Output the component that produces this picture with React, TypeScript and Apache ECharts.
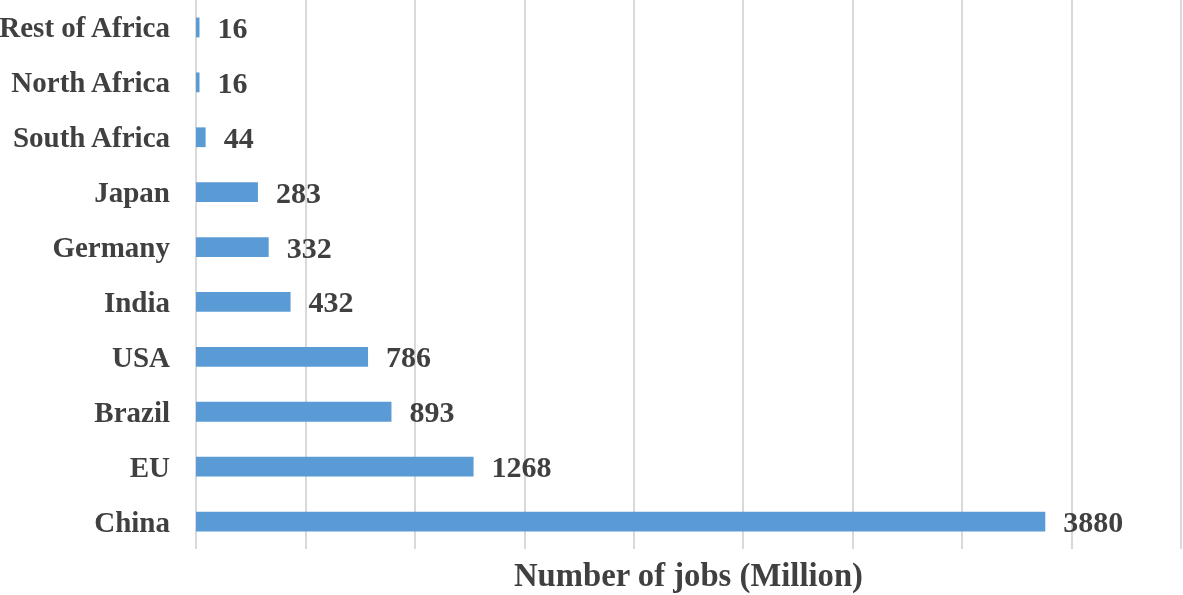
import React, { useEffect, useRef } from "react";
import * as echarts from "echarts";

const categories = ["China", "EU", "Brazil", "USA", "India", "Germany", "Japan", "South Africa", "North Africa", "Rest of Africa"];
const jobs = [3880, 1268, 893, 786, 432, 332, 283, 44, 16, 16];
const axisName = "Number of jobs (Million)";

export default function App() {
  const ref = useRef<HTMLDivElement>(null);
  useEffect(() => {
    const chart = echarts.init(ref.current!, undefined, { renderer: "svg" });
    const font = "'Liberation Serif', 'Times New Roman', serif";
    chart.setOption({
      animation: false,
      grid: { left: 196, right: 2, top: 0, bottom: 46, containLabel: false, outerBoundsMode: "none" },
      xAxis: {
        type: "value",
        min: 0,
        max: 4500,
        interval: 500,
        axisLabel: { show: false },
        axisLine: { show: false },
        axisTick: { show: false },
        splitLine: { show: true, lineStyle: { color: "#d9d9d9", width: 2 } },
        name: axisName,
        nameLocation: "middle",
        nameGap: 9,
        nameTextStyle: { fontFamily: font, fontWeight: "bold", fontSize: 32.7, color: "#404040", verticalAlign: "top" },
      },
      yAxis: {
        type: "category",
        data: categories,
        axisLine: { show: false },
        axisTick: { show: false },
        axisLabel: { fontFamily: font, fontWeight: "bold", fontSize: 29, color: "#404040", margin: 26 },
      },
      series: [
        {
          type: "bar",
          data: jobs,
          barCategoryGap: "64%",
          itemStyle: { color: "#5b9bd5" },
          label: {
            show: true,
            position: "right",
            distance: 18,
            fontFamily: font,
            fontWeight: "bold",
            fontSize: 30,
            color: "#404040",
          },
        },
      ],
    });
    return () => chart.dispose();
  }, []);
  return <div ref={ref} style={{ position: "fixed", left: 0, top: 0, width: 1183, height: 595 }} />;
}
